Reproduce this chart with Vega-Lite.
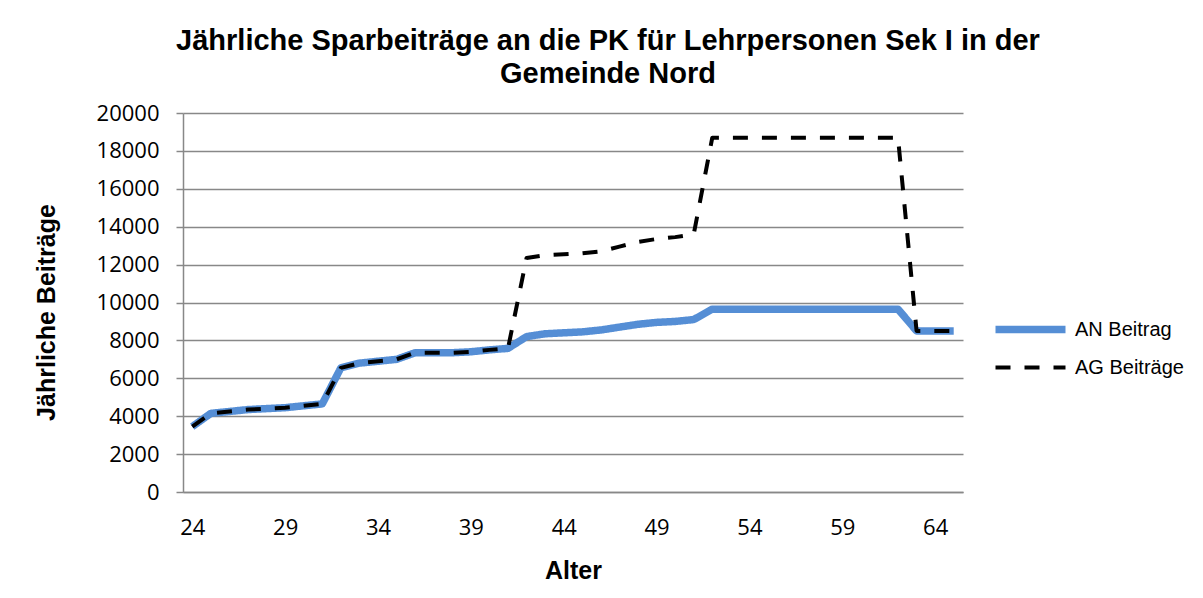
{
  "$schema": "https://vega.github.io/schema/vega-lite/v6.json",
  "width": 780,
  "height": 379,
  "autosize": "none",
  "padding": {"left": 183, "top": 113, "right": 240, "bottom": 106},
  "background": "white",
  "title": {
    "text": ["Jährliche Sparbeiträge an die PK für Lehrpersonen Sek I in der", "Gemeinde Nord"],
    "font": "Liberation Sans",
    "fontSize": 29,
    "fontWeight": "bold",
    "color": "#000000",
    "anchor": "middle",
    "frame": "group",
    "dx": 35,
    "offset": 13,
    "lineHeight": 33
  },
  "data": {
    "values": [
      {"Alter": 24, "Serie": "AN Beitrag", "Wert": 3450},
      {"Alter": 25, "Serie": "AN Beitrag", "Wert": 4150},
      {"Alter": 26, "Serie": "AN Beitrag", "Wert": 4250},
      {"Alter": 27, "Serie": "AN Beitrag", "Wert": 4350},
      {"Alter": 28, "Serie": "AN Beitrag", "Wert": 4400},
      {"Alter": 29, "Serie": "AN Beitrag", "Wert": 4450},
      {"Alter": 30, "Serie": "AN Beitrag", "Wert": 4550},
      {"Alter": 31, "Serie": "AN Beitrag", "Wert": 4650},
      {"Alter": 32, "Serie": "AN Beitrag", "Wert": 6550},
      {"Alter": 33, "Serie": "AN Beitrag", "Wert": 6800},
      {"Alter": 34, "Serie": "AN Beitrag", "Wert": 6900},
      {"Alter": 35, "Serie": "AN Beitrag", "Wert": 7000},
      {"Alter": 36, "Serie": "AN Beitrag", "Wert": 7350},
      {"Alter": 37, "Serie": "AN Beitrag", "Wert": 7350},
      {"Alter": 38, "Serie": "AN Beitrag", "Wert": 7350},
      {"Alter": 39, "Serie": "AN Beitrag", "Wert": 7400},
      {"Alter": 40, "Serie": "AN Beitrag", "Wert": 7500},
      {"Alter": 41, "Serie": "AN Beitrag", "Wert": 7580},
      {"Alter": 42, "Serie": "AN Beitrag", "Wert": 8200},
      {"Alter": 43, "Serie": "AN Beitrag", "Wert": 8350},
      {"Alter": 44, "Serie": "AN Beitrag", "Wert": 8400},
      {"Alter": 45, "Serie": "AN Beitrag", "Wert": 8450},
      {"Alter": 46, "Serie": "AN Beitrag", "Wert": 8550},
      {"Alter": 47, "Serie": "AN Beitrag", "Wert": 8700},
      {"Alter": 48, "Serie": "AN Beitrag", "Wert": 8850},
      {"Alter": 49, "Serie": "AN Beitrag", "Wert": 8950},
      {"Alter": 50, "Serie": "AN Beitrag", "Wert": 9000},
      {"Alter": 51, "Serie": "AN Beitrag", "Wert": 9100},
      {"Alter": 52, "Serie": "AN Beitrag", "Wert": 9650},
      {"Alter": 53, "Serie": "AN Beitrag", "Wert": 9650},
      {"Alter": 54, "Serie": "AN Beitrag", "Wert": 9650},
      {"Alter": 55, "Serie": "AN Beitrag", "Wert": 9650},
      {"Alter": 56, "Serie": "AN Beitrag", "Wert": 9650},
      {"Alter": 57, "Serie": "AN Beitrag", "Wert": 9650},
      {"Alter": 58, "Serie": "AN Beitrag", "Wert": 9650},
      {"Alter": 59, "Serie": "AN Beitrag", "Wert": 9650},
      {"Alter": 60, "Serie": "AN Beitrag", "Wert": 9650},
      {"Alter": 61, "Serie": "AN Beitrag", "Wert": 9650},
      {"Alter": 62, "Serie": "AN Beitrag", "Wert": 9650},
      {"Alter": 63, "Serie": "AN Beitrag", "Wert": 8500},
      {"Alter": 64, "Serie": "AN Beitrag", "Wert": 8500},
      {"Alter": 65, "Serie": "AN Beitrag", "Wert": 8500},
      {"Alter": 24, "Serie": "AG Beiträge", "Wert": 3450},
      {"Alter": 25, "Serie": "AG Beiträge", "Wert": 4150},
      {"Alter": 26, "Serie": "AG Beiträge", "Wert": 4250},
      {"Alter": 27, "Serie": "AG Beiträge", "Wert": 4350},
      {"Alter": 28, "Serie": "AG Beiträge", "Wert": 4400},
      {"Alter": 29, "Serie": "AG Beiträge", "Wert": 4450},
      {"Alter": 30, "Serie": "AG Beiträge", "Wert": 4550},
      {"Alter": 31, "Serie": "AG Beiträge", "Wert": 4650},
      {"Alter": 32, "Serie": "AG Beiträge", "Wert": 6550},
      {"Alter": 33, "Serie": "AG Beiträge", "Wert": 6800},
      {"Alter": 34, "Serie": "AG Beiträge", "Wert": 6900},
      {"Alter": 35, "Serie": "AG Beiträge", "Wert": 7000},
      {"Alter": 36, "Serie": "AG Beiträge", "Wert": 7350},
      {"Alter": 37, "Serie": "AG Beiträge", "Wert": 7350},
      {"Alter": 38, "Serie": "AG Beiträge", "Wert": 7350},
      {"Alter": 39, "Serie": "AG Beiträge", "Wert": 7400},
      {"Alter": 40, "Serie": "AG Beiträge", "Wert": 7500},
      {"Alter": 41, "Serie": "AG Beiträge", "Wert": 7580},
      {"Alter": 42, "Serie": "AG Beiträge", "Wert": 12350},
      {"Alter": 43, "Serie": "AG Beiträge", "Wert": 12500},
      {"Alter": 44, "Serie": "AG Beiträge", "Wert": 12550},
      {"Alter": 45, "Serie": "AG Beiträge", "Wert": 12600},
      {"Alter": 46, "Serie": "AG Beiträge", "Wert": 12700},
      {"Alter": 47, "Serie": "AG Beiträge", "Wert": 12950},
      {"Alter": 48, "Serie": "AG Beiträge", "Wert": 13200},
      {"Alter": 49, "Serie": "AG Beiträge", "Wert": 13350},
      {"Alter": 50, "Serie": "AG Beiträge", "Wert": 13450},
      {"Alter": 51, "Serie": "AG Beiträge", "Wert": 13600},
      {"Alter": 52, "Serie": "AG Beiträge", "Wert": 18700},
      {"Alter": 53, "Serie": "AG Beiträge", "Wert": 18700},
      {"Alter": 54, "Serie": "AG Beiträge", "Wert": 18700},
      {"Alter": 55, "Serie": "AG Beiträge", "Wert": 18700},
      {"Alter": 56, "Serie": "AG Beiträge", "Wert": 18700},
      {"Alter": 57, "Serie": "AG Beiträge", "Wert": 18700},
      {"Alter": 58, "Serie": "AG Beiträge", "Wert": 18700},
      {"Alter": 59, "Serie": "AG Beiträge", "Wert": 18700},
      {"Alter": 60, "Serie": "AG Beiträge", "Wert": 18700},
      {"Alter": 61, "Serie": "AG Beiträge", "Wert": 18700},
      {"Alter": 62, "Serie": "AG Beiträge", "Wert": 18700},
      {"Alter": 63, "Serie": "AG Beiträge", "Wert": 8500},
      {"Alter": 64, "Serie": "AG Beiträge", "Wert": 8500},
      {"Alter": 65, "Serie": "AG Beiträge", "Wert": 8500}
    ]
  },
  "mark": {"type": "line", "strokeCap": "butt", "strokeJoin": "round"},
  "encoding": {
    "x": {
      "field": "Alter",
      "type": "quantitative",
      "scale": {"domain": [23.5, 65.5], "nice": false, "zero": false},
      "axis": {
        "title": "Alter",
        "values": [24, 29, 34, 39, 44, 49, 54, 59, 64],
        "format": "d",
        "grid": false,
        "ticks": false,
        "domainColor": "#888888",
        "domainWidth": 1.5,
        "labelFont": "Open Sans",
        "labelFontSize": 22,
        "labelColor": "#000000",
        "labelPadding": 25,
        "titleFont": "Liberation Sans",
        "titleFontSize": 25,
        "titleFontWeight": "bold",
        "titleColor": "#000000",
        "titlePadding": 20
      }
    },
    "y": {
      "field": "Wert",
      "type": "quantitative",
      "scale": {"domain": [0, 20000], "nice": false},
      "axis": {
        "title": "Jährliche Beiträge",
        "values": [0, 2000, 4000, 6000, 8000, 10000, 12000, 14000, 16000, 18000, 20000],
        "format": "d",
        "grid": true,
        "gridColor": "#888888",
        "gridWidth": 1.5,
        "ticks": true,
        "tickSize": 7,
        "tickColor": "#888888",
        "tickWidth": 1.5,
        "domainColor": "#888888",
        "domainWidth": 1.5,
        "labelFont": "Open Sans",
        "labelFontSize": 22,
        "labelColor": "#000000",
        "labelPadding": 17,
        "titleFont": "Liberation Sans",
        "titleFontSize": 25,
        "titleFontWeight": "bold",
        "titleColor": "#000000",
        "titlePadding": 37,
        "titleY": 199
      }
    },
    "color": {
      "field": "Serie",
      "type": "nominal",
      "scale": {"domain": ["AN Beitrag", "AG Beiträge"], "range": ["#558ED5", "#000000"]},
      "legend": {
        "title": null,
        "orient": "none",
        "legendX": 826,
        "legendY": 195,
        "symbolType": "M-2,0H2",
        "symbolSize": 1225,
        "symbolStrokeWidth": 5,
        "labelFont": "Liberation Sans",
        "labelFontSize": 20,
        "labelColor": "#000000",
        "labelOffset": 23,
        "rowPadding": 3
      }
    },
    "strokeDash": {
      "field": "Serie",
      "type": "nominal",
      "scale": {"domain": ["AN Beitrag", "AG Beiträge"], "range": [[1, 0], [15, 14]]},
      "legend": null
    },
    "strokeWidth": {
      "field": "Serie",
      "type": "nominal",
      "scale": {"domain": ["AN Beitrag", "AG Beiträge"], "range": [7.5, 4]}
    },
    "order": {"field": "Alter", "type": "quantitative"}
  },
  "config": {
    "view": {"stroke": null}
  }
}
